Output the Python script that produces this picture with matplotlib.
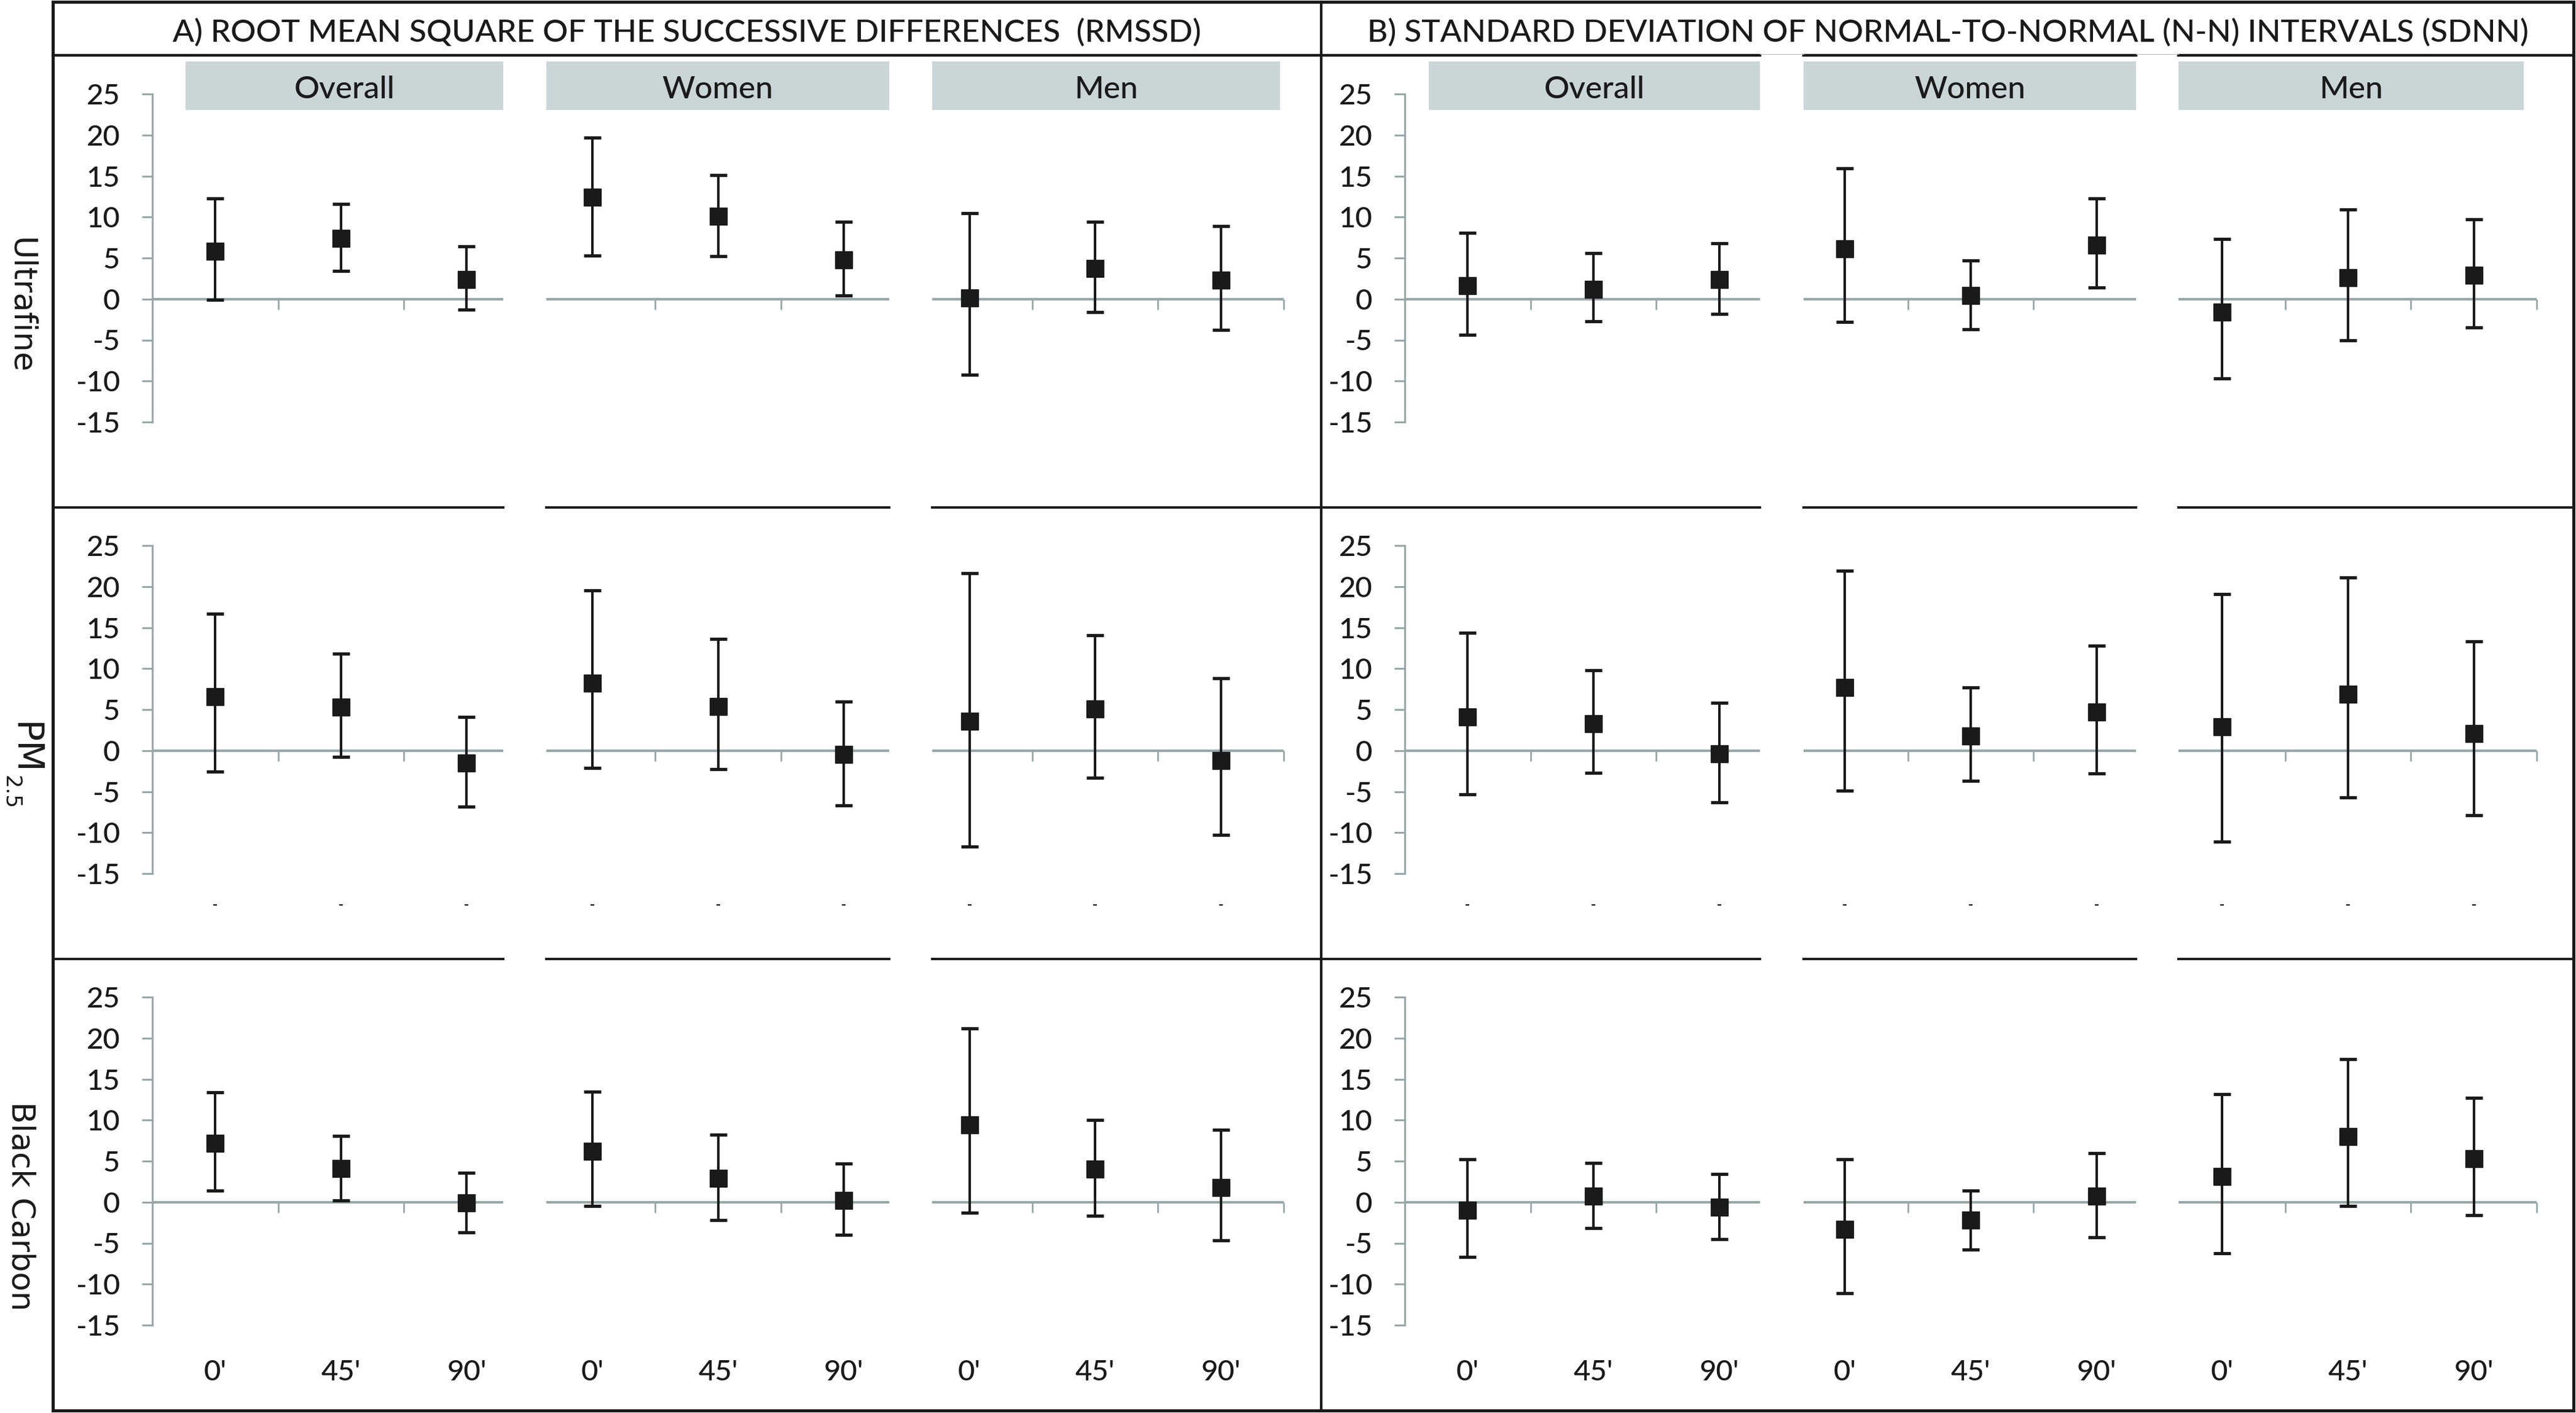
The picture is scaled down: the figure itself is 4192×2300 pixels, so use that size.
import matplotlib
matplotlib.use("Agg")
import matplotlib.pyplot as plt
from matplotlib.patches import Rectangle
from matplotlib.lines import Line2D

# ---------------- data ----------------
times = ["0'", "45'", "90'"]
groups = ["Overall", "Women", "Men"]
row_labels = ["Ultrafine", "PM", "Black Carbon"]
pm_sub = "2.5"
title_a = "A) ROOT MEAN SQUARE OF THE SUCCESSIVE DIFFERENCES  (RMSSD)"
title_b = "B) STANDARD DEVIATION OF NORMAL-TO-NORMAL (N-N) INTERVALS (SDNN)"
yticks = [-15, -10, -5, 0, 5, 10, 15, 20, 25]

# order inside each list: Overall 0',45',90', Women 0',45',90', Men 0',45',90'
rmssd_ufp_est = [5.8, 7.4, 2.4, 12.4, 10.1, 4.8, 0.1, 3.7, 2.3]
rmssd_ufp_lo = [-0.1, 3.4, -1.3, 5.3, 5.2, 0.4, -9.2, -1.6, -3.8]
rmssd_ufp_hi = [12.3, 11.6, 6.4, 19.7, 15.1, 9.4, 10.5, 9.4, 8.9]

rmssd_pm_est = [6.6, 5.3, -1.5, 8.2, 5.4, -0.5, 3.6, 5.1, -1.2]
rmssd_pm_lo = [-2.6, -0.8, -6.8, -2.1, -2.3, -6.7, -11.7, -3.3, -10.3]
rmssd_pm_hi = [16.7, 11.8, 4.1, 19.5, 13.6, 6.0, 21.6, 14.1, 8.8]

rmssd_bc_est = [7.2, 4.1, -0.1, 6.2, 2.9, 0.2, 9.4, 4.0, 1.8]
rmssd_bc_lo = [1.4, 0.2, -3.7, -0.5, -2.2, -4.0, -1.3, -1.7, -4.7]
rmssd_bc_hi = [13.4, 8.1, 3.6, 13.5, 8.2, 4.7, 21.2, 10.0, 8.8]

sdnn_ufp_est = [1.6, 1.2, 2.4, 6.1, 0.4, 6.6, -1.6, 2.6, 2.9]
sdnn_ufp_lo = [-4.4, -2.7, -1.8, -2.8, -3.7, 1.4, -9.7, -5.0, -3.5]
sdnn_ufp_hi = [8.1, 5.6, 6.8, 15.9, 4.7, 12.3, 7.3, 10.9, 9.7]

sdnn_pm_est = [4.1, 3.3, -0.4, 7.7, 1.8, 4.7, 2.9, 6.9, 2.1]
sdnn_pm_lo = [-5.3, -2.7, -6.3, -4.9, -3.7, -2.8, -11.1, -5.7, -7.9]
sdnn_pm_hi = [14.4, 9.8, 5.8, 21.9, 7.7, 12.8, 19.1, 21.1, 13.3]

sdnn_bc_est = [-1.0, 0.7, -0.6, -3.3, -2.2, 0.7, 3.1, 8.0, 5.3]
sdnn_bc_lo = [-6.7, -3.2, -4.5, -11.1, -5.8, -4.3, -6.2, -0.5, -1.6]
sdnn_bc_hi = [5.2, 4.8, 3.4, 5.2, 1.4, 6.0, 13.2, 17.4, 12.7]

panels = {
    (0, 0): (rmssd_ufp_est, rmssd_ufp_lo, rmssd_ufp_hi),
    (1, 0): (rmssd_pm_est, rmssd_pm_lo, rmssd_pm_hi),
    (2, 0): (rmssd_bc_est, rmssd_bc_lo, rmssd_bc_hi),
    (0, 1): (sdnn_ufp_est, sdnn_ufp_lo, sdnn_ufp_hi),
    (1, 1): (sdnn_pm_est, sdnn_pm_lo, sdnn_pm_hi),
    (2, 1): (sdnn_bc_est, sdnn_bc_lo, sdnn_bc_hi),
}

# ---------------- style / layout ----------------
W, H, DPI = 4192, 2300, 100
INK = "#1a1a1a"
AXC = "#97a8aa"
STRIP = "#cad5d8"
FONT = "Lato"
FW = "medium"
ROWFONT = "DejaVu Sans"

fig = plt.figure(figsize=(W / DPI, H / DPI), dpi=DPI)
fig.patch.set_facecolor("white")


def fx(px):
    return px / W


def fy(py):
    return 1 - py / H


def fig_line(x0, y0, x1, y1, lw=3.2, color=INK):
    fig.add_artist(Line2D([fx(x0), fx(x1)], [fy(y0), fy(y1)],
                          transform=fig.transFigure, lw=lw, color=color,
                          solid_capstyle="projecting"))


# pixel layout of the two halves
half_x = [(248, 2089), (2286, 4128)]
# panel visible extents in category units (x-axis segments and strips)
seg_ranges = [
    [(0.0, 2.792), (3.134, 5.863), (6.205, 9.0)],
    [(0.0, 2.824), (3.171, 5.814), (6.151, 9.0)],
]
strip_ranges = [
    [(0.264, 2.792), (3.134, 5.863), (6.205, 8.973)],
    [(0.190, 2.824), (3.171, 5.814), (6.151, 8.897)],
]
row_top = [153, 888, 1623]   # pixel of y=25
row_h = 534                  # pixels for 40 units
ppu = row_h / 40.0

ncat = len(groups) * len(times)
xpos = [i + 0.5 for i in range(ncat)]
xlabels = times * len(groups)

for (r, c), (est, lo, hi) in panels.items():
    x0, x1 = half_x[c]
    yt = row_top[r]
    ax = fig.add_axes([fx(x0), fy(yt + row_h), fx(x1) - fx(x0), row_h / H])
    ax.set_xlim(0, ncat)
    ax.set_ylim(-15, 25)
    ax.patch.set_alpha(0)
    for s in ("top", "right"):
        ax.spines[s].set_visible(False)
    ax.spines["left"].set_color(AXC)
    ax.spines["left"].set_linewidth(2.2)
    ax.spines["bottom"].set_position(("data", 0))
    ax.spines["bottom"].set_visible(False)
    ax.set_yticks(yticks)
    ax.set_yticklabels([str(v) for v in yticks], fontfamily=FONT, fontweight=FW)
    ax.tick_params(axis="y", direction="out", length=12, width=2.2, color=AXC,
                   labelsize=34, labelcolor=INK, pad=26)
    ax.set_xticks([0, 1, 2, 4, 5, 7, 8, 9])
    ax.set_xticklabels([])
    ax.tick_params(axis="x", direction="out", length=12.5, width=2.0, color=AXC)

    # x-axis line segments (one per sub-panel)
    for a, b in seg_ranges[c]:
        ax.hlines(0, a, b, color=AXC, lw=3.0, zorder=1)

    # strips in the top row
    if r == 0:
        y_top = (yt + 25 * ppu - 100) / ppu
        y_bot = (yt + 25 * ppu - 179) / ppu
        y_base = (yt + 25 * ppu - 160) / ppu
        for (a, b), g in zip(strip_ranges[c], groups):
            ax.add_patch(Rectangle((a, y_bot), b - a, y_top - y_bot,
                                   facecolor=STRIP, edgecolor="none",
                                   clip_on=False, zorder=0))
            ax.text((a + b) / 2, y_base, g, ha="center", va="baseline",
                    fontsize=37, fontfamily=FONT, fontweight=FW, color=INK,
                    clip_on=False)

    # estimates with confidence intervals
    yerr = [[e - l for e, l in zip(est, lo)], [h - e for e, h in zip(est, hi)]]
    ax.errorbar(xpos, est, yerr=yerr, fmt="s", ms=20, mfc=INK, mec=INK,
                ecolor=INK, elinewidth=2.9, capsize=10, capthick=3.8,
                zorder=3, clip_on=False)

    if r == 1:
        ax.plot(xpos, [-18.8] * ncat, ls="none", marker="_", ms=4, mew=1.6,
                color=INK, clip_on=False)
    if r == 2:
        yl = (yt + 25 * ppu - 2247) / ppu
        for xp, lab in zip(xpos, xlabels):
            ax.text(xp, yl, lab, ha="center", va="baseline", fontsize=34,
                    fontfamily=FONT, fontweight=FW, color=INK, clip_on=False)

# ---------------- frame ----------------
L, T, R, B = 86, 3, 4188, 2296
DIV = 2150
fig_line(L, T, R, T, lw=3.6)
fig_line(L, B, R, B, lw=3.6)
fig_line(L, T, L, B, lw=3.6)
fig_line(R, T, R, B, lw=3.6)
fig_line(DIV, T, DIV, B, lw=3.0)
# header line (gaps in the right half)
fig_line(L, 90, 2864, 90)
fig_line(2935, 90, 3476, 90)
fig_line(3545, 90, R, 90)
fig_line(2864, 88, 2935, 88, lw=0.8, color="#bbbbbb")
fig_line(3476, 88, 3545, 88, lw=0.8, color="#bbbbbb")
# row separators
for yy in (826, 1561):
    for a, b in [(L, 819), (889, 1447), (1517, DIV), (DIV, 2864), (2935, 3476), (3545, R)]:
        fig_line(a, yy, b, yy, lw=2.8)

# titles
fig.text(fx(1118), fy(67), title_a, ha="center", va="baseline",
         fontsize=37, fontfamily=FONT, fontweight=FW, color=INK)
fig.text(fx(3170), fy(67), title_b, ha="center", va="baseline",
         fontsize=37, fontfamily=FONT, fontweight=FW, color=INK)

# row labels
fig.text(fx(33), fy(498), row_labels[0], rotation=-90, ha="center", va="center",
         fontsize=37, fontfamily=ROWFONT, color=INK)
fig.text(fx(40), fy(1218), row_labels[1], rotation=-90, ha="center", va="center",
         fontsize=42, fontfamily=ROWFONT, color=INK)
fig.text(fx(18), fy(1290), pm_sub, rotation=-90, ha="center", va="center",
         fontsize=25, fontfamily=ROWFONT, color=INK)
fig.text(fx(33), fy(1963), row_labels[2], rotation=-90, ha="center", va="center",
         fontsize=37, fontfamily=ROWFONT, color=INK)

fig.savefig("out.png", dpi=DPI, facecolor="white")
